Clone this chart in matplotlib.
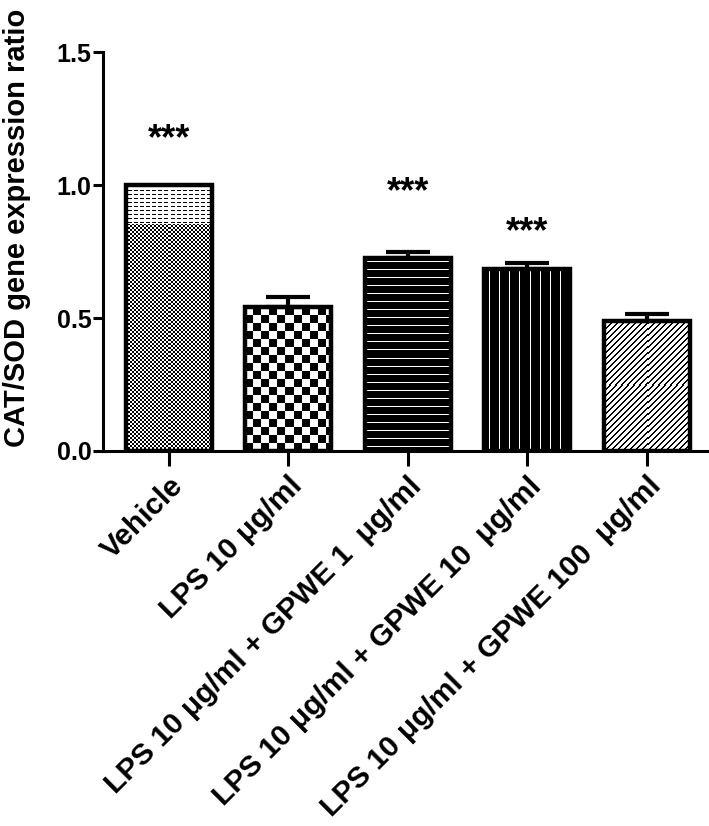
import numpy as np
import matplotlib
matplotlib.use('Agg')
import matplotlib.pyplot as plt

plt.rcParams['font.family'] = ['Liberation Sans', 'DejaVu Sans']
plt.rcParams['font.weight'] = 'bold'

groups = ['Vehicle', 'LPS 10 μg/ml', 'LPS 10 μg/ml + GPWE 1  μg/ml',
          'LPS 10 μg/ml + GPWE 10  μg/ml', 'LPS 10 μg/ml + GPWE 100  μg/ml']
ratio = [1.0, 0.54, 0.727, 0.685, 0.49]
sem = [0.0, 0.04, 0.02, 0.02, 0.026]
stars = ['***', '', '***', '***', '']
star_y = [1.17, None, 0.97, 0.82, None]

fig = plt.figure(figsize=(7.09, 8.26), dpi=100)
ax = fig.add_axes([0.145, 0.454, 0.855, 0.483])

x = np.arange(len(groups))
w = 0.72
lw = 3.2

ax.set_xlim(-0.55, 4.52)
ax.set_ylim(0, 1.5)


def texture(i, kind):
    # pixel pattern image clipped to bar i
    h = ratio[i]
    p0 = ax.transData.transform((x[i] - w / 2, 0))
    p1 = ax.transData.transform((x[i] + w / 2, h))
    nx = int(round(p1[0] - p0[0]))
    ny = int(round(p1[1] - p0[1]))
    r, c = np.mgrid[0:ny, 0:nx]
    if kind == 'fine':
        img = ((r // 2 + c // 2) % 2).astype(float)
        k = int(ny * 0.15)
        top = r >= ny - k
        dash = ((r % 4) != 0) | ((c % 6) < 2)
        img[top] = dash[top].astype(float)
    elif kind == 'checker':
        img = ((r // 8 + c // 8) % 2).astype(float)
    elif kind == 'vlines':
        img = ((c % 10) == 5).astype(float)
    elif kind == 'hlines':
        img = ((r % 8) == 4).astype(float)
    else:
        img = (((c - r) % 6) >= 2).astype(float)
    im = ax.imshow(img, cmap='gray', vmin=0, vmax=1, origin='lower',
                   aspect='auto', extent=(x[i] - w / 2, x[i] + w / 2, 0, h),
                   interpolation='nearest', zorder=1)
    return im


bars = ax.bar(x, ratio, width=w, facecolor='white', edgecolor='none', zorder=0)
kinds = ['fine', 'checker', 'hlines', 'vlines', 'diag']
for i, k in enumerate(kinds):
    im = texture(i, k)
    im.set_clip_path(bars[i])

# outlines
ax.bar(x, ratio, width=w, facecolor='none', edgecolor='black',
       linewidth=lw, zorder=2)

ax.errorbar(x[1:], ratio[1:], yerr=[np.zeros(4), sem[1:]], fmt='none',
            ecolor='black', elinewidth=3, capsize=16, capthick=3, zorder=3)

for i, s in enumerate(stars):
    if s:
        ax.text(x[i], star_y[i], s, ha='center', va='center',
                fontsize=26, fontweight='bold')

ax.set_xlim(-0.55, 4.52)
ax.set_ylim(0, 1.5)
ax.set_yticks([0.0, 0.5, 1.0, 1.5])
ax.set_yticklabels(['0.0', '0.5', '1.0', '1.5'])
ax.set_xticks(x)
ax.set_xticklabels(groups, rotation=45, ha='right', rotation_mode='anchor',
                   fontsize=21.5, fontweight='bold')
ax.tick_params(axis='y', labelsize=18, width=2.2, length=7, pad=1)
ax.tick_params(axis='x', width=2.2, length=11, pad=4)

for s in ['top', 'right']:
    ax.spines[s].set_visible(False)
for s in ['left', 'bottom']:
    ax.spines[s].set_linewidth(2.2)

fig.text(0.024, 0.724, 'CAT/SOD gene expression ratio', rotation=90,
         ha='center', va='center', fontsize=21, fontweight='bold')

fig.savefig('out.png', dpi=100)
